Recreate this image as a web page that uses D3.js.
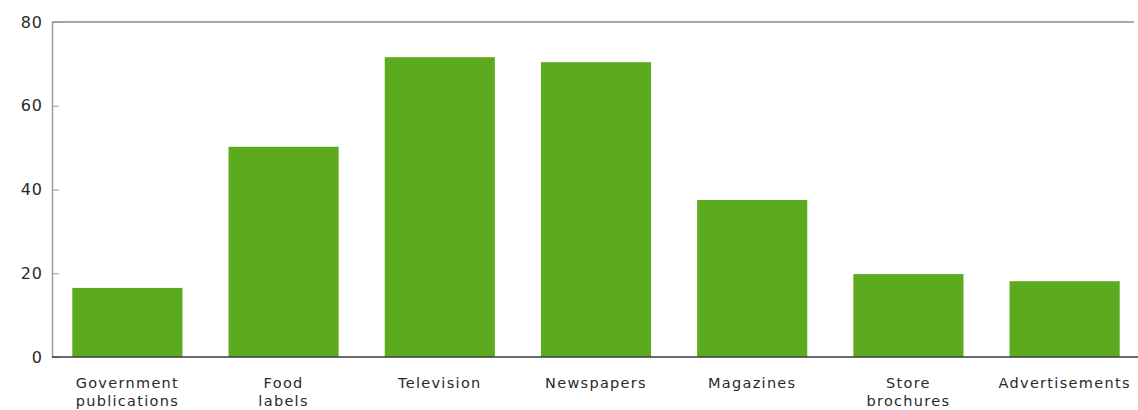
<!DOCTYPE html>
<html>
<head>
<meta charset="utf-8">
<script src="https://cdn.jsdelivr.net/npm/d3@7"></script>
<style>
  body { margin: 0; background: #fff; }
  text { font-family: "DejaVu Sans", sans-serif; fill: #2a2a2a; }
</style>
</head>
<body>
<div id="chart"></div>
<script>
// data
var categories = [["Government", "publications"], ["Food", "labels"], ["Television"], ["Newspapers"],
                  ["Magazines"], ["Store", "brochures"], ["Advertisements"]];
var values = [16.5, 50.2, 71.6, 70.4, 37.5, 19.8, 18.1];
var yTicks = [0, 20, 40, 60, 80];

var margin = {top: 22, right: 0, bottom: 53, left: 52},
    width = 1140 - margin.left - margin.right,
    height = 410 - margin.top - margin.bottom;

var svg = d3.select("#chart")
    .append("svg")
    .attr("width", 1138)
    .attr("height", 410)
    .append("g")
    .attr("transform", "translate(" + margin.left + "," + margin.top + ")");

var keys = categories.map(function (d) { return d.join(" "); });

var x = d3.scaleBand()
    .domain(keys)
    .range([0, width])
    .paddingInner(0.295)
    .paddingOuter(0.13);

var y = d3.scaleLinear()
    .domain([0, 80])
    .range([height, 0]);

// top frame line
svg.append("line")
    .attr("x1", 0).attr("x2", 1082)
    .attr("y1", y(80)).attr("y2", y(80))
    .attr("stroke", "#a8a8a8")
    .attr("stroke-width", 2);

// bars
svg.selectAll("rect.bar")
    .data(values)
    .enter()
    .append("rect")
    .attr("class", "bar")
    .attr("x", function (d, i) { return x(keys[i]); })
    .attr("y", function (d) { return y(d); })
    .attr("width", x.bandwidth())
    .attr("height", function (d) { return height - y(d); })
    .attr("fill", "#5cab1f");

// Y axis
var yAxis = svg.append("g")
    .call(d3.axisLeft(y).tickValues(yTicks).tickSizeInner(-7).tickSizeOuter(0).tickPadding(9));
yAxis.select(".domain").attr("stroke", "#9a9a9a").attr("stroke-width", 1.5);
yAxis.selectAll(".tick line").attr("stroke", "#9a9a9a");
yAxis.selectAll(".tick text")
    .attr("font-size", 16)
    .attr("letter-spacing", 1)
    .attr("font-family", "DejaVu Sans, sans-serif")
    .attr("fill", "#2a2a2a");

// X axis
var xAxis = svg.append("g")
    .attr("transform", "translate(0," + height + ")")
    .call(d3.axisBottom(x).tickSize(0).tickFormat(""));
xAxis.select(".domain").attr("stroke", "#3a3a3a").attr("stroke-width", 1.5)
    .attr("d", "M0,0H1086");

// category labels (may be two lines)
xAxis.selectAll(".tick").each(function (d, i) {
    var t = d3.select(this).append("text")
        .attr("text-anchor", "middle")
        .attr("font-size", 14.5)
        .attr("letter-spacing", 1.3)
        .attr("fill", "#2a2a2a")
        .attr("y", 31);
    categories[i].forEach(function (line, j) {
        t.append("tspan")
            .attr("x", 0)
            .attr("dy", j === 0 ? 0 : 18)
            .text(line);
    });
});
</script>
</body>
</html>
